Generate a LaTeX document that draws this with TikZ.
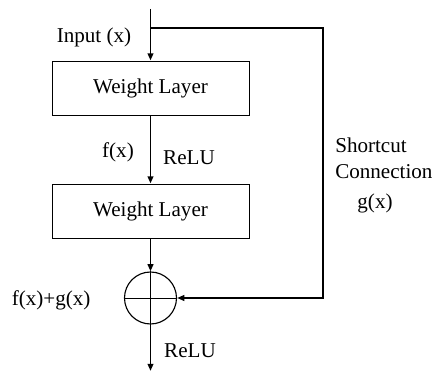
\documentclass[tikz,border=0pt]{standalone}
\usepackage{fontspec}
\setmainfont{Liberation Serif}
\usepackage{tikz}
\usetikzlibrary{positioning,arrows.meta,calc}

\begin{document}
\begin{tikzpicture}[
  capa/.style={draw, line width=0.7pt, minimum width=4.925cm,
    minimum height=1.35cm, inner sep=0pt, align=center,
    font=\fontsize{15}{18.5}\selectfont},
  sumador/.style={draw, circle, line width=0.8pt, minimum size=1.3cm,
    inner sep=0pt},
  flujo/.style={-{Triangle[length=1.8mm, width=1.4mm]}, line width=1.3pt},
  etiqueta/.style={font=\fontsize{15}{18.5}\selectfont, inner sep=0pt,
    align=left},
]
  \useasboundingbox (0,0) rectangle (10.9,9.325);
  % Bloques
  \node[capa] (capa1) at (3.7625,7.125) {Weight Layer};
  \node[capa] (capa2) at (3.7625,4.05) {Weight Layer};
  \node[sumador] (suma) at (3.7625,1.875) {};
  \draw[line width=0.7pt] (suma.north) -- (suma.south)
    (suma.west) -- (suma.east);
  % Puntos libres
  \coordinate (entrada) at (3.7625,9.1);
  \coordinate (rama) at (3.7625,8.625);
  \coordinate (esquina) at (8.075,8.625);
  \coordinate (salida) at (3.7625,0.05);
  % Flechas principales
  \draw[flujo] (entrada) -- (capa1);
  \draw[flujo] (capa1) -- (capa2);
  \draw[flujo] (capa2) -- (suma);
  \draw[flujo] (suma) -- (salida);
  % Atajo
  \draw[flujo] (rama) -- (esquina) |- (suma.east);
  % Textos
  \node[etiqueta] (tin) at (2.35,8.4) {Input (x)};
  \node[etiqueta] (tf) at (2.95,5.525) {f(x)};
  \node[etiqueta] (trelu1) at (4.725,5.375) {ReLU};
  \node[etiqueta, anchor=west] (tatajo) at (8.375,5.375)
    {Shortcut\\Connection};
  \node[etiqueta] (tg) at (9.375,4.25) {g(x)};
  \node[etiqueta] (tsuma) at (1.28,1.825) {f(x)+g(x)};
  \node[etiqueta] (trelu2) at (4.75,0.56) {ReLU};
\end{tikzpicture}
\end{document}
